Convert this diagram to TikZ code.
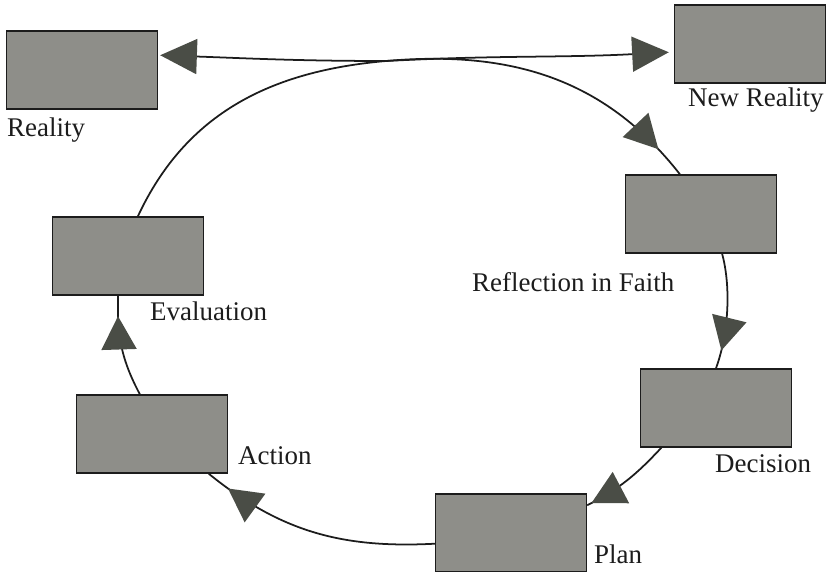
\documentclass[tikz,border=0pt]{standalone}
\usepackage{fontspec}
\setmainfont{Liberation Serif}
\usetikzlibrary{arrows.meta,decorations.markings}
\definecolor{cycbox}{HTML}{8E8E89}
\definecolor{cyctip}{HTML}{4A4D46}
\definecolor{cycline}{HTML}{1C1C1C}

\begin{document}
\begin{tikzpicture}[
    x=0.3mm, y=0.3mm,
    box/.style={draw=cycline, line width=1.2pt, fill=cycbox,
                minimum width=45.3mm, minimum height=23.4mm, inner sep=0pt},
    lbl/.style={anchor=base west, inner sep=0pt, text=cycline,
                font=\fontsize{23}{27}\selectfont},
    link/.style={line width=1.5pt, color=cycline},
    cyctri/.tip={Triangle[length=11mm, width=10.5mm, color=cyctip]},
    midarrow/.style={postaction={decorate}, decoration={markings,
        mark=at position #1 with {\arrow{Triangle[length=10mm, width=10.5mm, color=cyctip]}}}}
  ]
    \useasboundingbox (0,0) rectangle (832,571);
    % boxes
    \node[box] (reality) at (82,501)  {};
    \node[box] (newreal) at (750,527) {};
    \node[box] (reflect) at (701,357) {};
    \node[box] (evalu)   at (128,315) {};
    \node[box] (decis)   at (716,163) {};
    \node[box] (action)  at (152,137) {};
    \node[box] (plan)    at (511,38)  {};
    % labels
    \node[lbl] (reality-lbl) at (7,434)   {Reality};
    \node[lbl] (newreal-lbl) at (688,464) {New Reality};
    \node[lbl] (reflect-lbl) at (472,279) {Reflection in Faith};
    \node[lbl] (evalu-lbl)   at (150,250) {Evaluation};
    \node[lbl] (decis-lbl)   at (715,98)  {Decision};
    \node[lbl] (action-lbl)  at (238,106) {Action};
    \node[lbl] (plan-lbl)    at (594,8)   {Plan};
    % reality -- new reality
    \coordinate (top) at (386,510);
    \draw[link, cyctri-cyctri, shorten <=0.6mm, shorten >=1.5mm]
        (reality.11) to[out=-2, in=180] (top) to[out=3, in=183] (newreal.186);
    % the cycle
    \draw[link, midarrow=0.9]  (top) to[out=5, in=128] (reflect.118);
    \draw[link, midarrow=0.84] (reflect.-62) to[out=-75, in=70, looseness=0.8] (decis.north);
    \draw[link, midarrow=0.95] (decis.216) to[out=-133, in=27] (plan.20);
    \draw[link, midarrow=0.9]  (plan.188) to[out=183, in=-39] (action.-35);
    \draw[link, midarrow=0.8]  (action.107) to[out=118, in=-92] (evalu.-104);
    \draw[link] (evalu.76) to[out=65, in=185] (top);
\end{tikzpicture}
\end{document}
